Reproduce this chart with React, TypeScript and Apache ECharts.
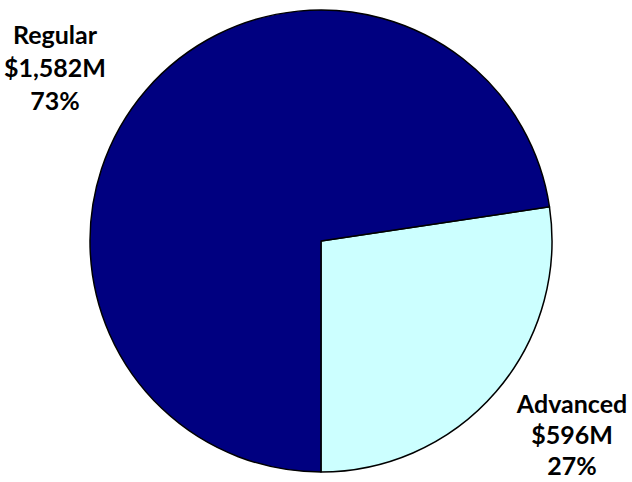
import React, { useEffect, useRef } from "react";
import * as echarts from "echarts";

const categories = ["Advanced", "Regular"];
const amounts = [596, 1582];
const amountLabels = ["$596M", "$1,582M"];
const percentLabels = ["27%", "73%"];
const colors = ["#CCFFFF", "#000080"];
const labelPositions = [
  { x: 572, y: 434, lineHeight: 31 },
  { x: 55, y: 67, lineHeight: 33 },
];

export default function App() {
  const ref = useRef<HTMLDivElement>(null);
  useEffect(() => {
    document.body.style.margin = "0";
    const chart = echarts.init(ref.current!, null, { renderer: "svg" });
    chart.setOption({
      animation: false,
      backgroundColor: "#ffffff",
      series: [
        {
          type: "pie",
          center: [321, 241],
          radius: [0, 231],
          startAngle: 8.5,
          clockwise: true,
          silent: true,
          data: categories.map((name, i) => ({
            name,
            value: amounts[i],
            itemStyle: { color: colors[i] },
            label: { lineHeight: labelPositions[i].lineHeight },
          })),
          itemStyle: { borderColor: "#000000", borderWidth: 1.5 },
          label: {
            show: true,
            position: "outside",
            formatter: (p: any) =>
              `${p.name}\n${amountLabels[p.dataIndex]}\n${percentLabels[p.dataIndex]}`,
            fontFamily: "Lato",
            fontWeight: "bold",
            fontSize: 25,
            lineHeight: 31,
            color: "#000000",
            align: "center",
            overflow: "none",
            width: 200,
          },
          labelLine: { show: false },
          labelLayout: (params: any) => ({
            x: labelPositions[params.dataIndex].x,
            y: labelPositions[params.dataIndex].y,
            align: "center",
            verticalAlign: "middle",
          }),
        },
      ],
    });
    return () => chart.dispose();
  }, []);
  return (
    <div
      ref={ref}
      style={{ position: "absolute", left: 0, top: 0, width: 632, height: 482 }}
    />
  );
}
